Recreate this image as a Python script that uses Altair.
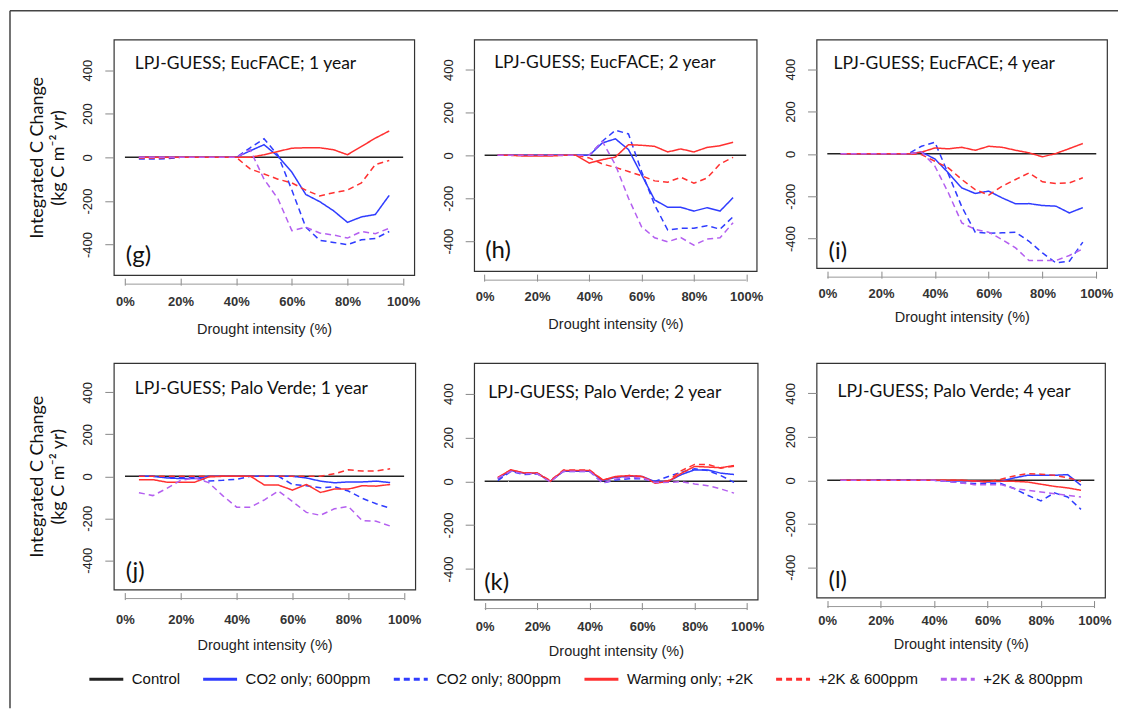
import altair as alt
import pandas as pd

# ---------------- data ----------------
xs = [5, 10, 15, 20, 25, 30, 35, 40, 45, 50, 55, 60, 65, 70, 75, 80, 85, 90, 95]
control_x = [0, 100]
control_y = [0, 0]

series_names = ["Control", "CO2 only; 600ppm", "CO2 only; 800ppm",
                "Warming only; +2K", "+2K & 600ppm", "+2K & 800ppm"]
series_colors = ["#222222", "#2f3cff", "#2f3cff", "#ff3030", "#ff3030", "#b45ff0"]
series_dashes = [[1, 0], [1, 0], [6, 4], [1, 0], [6, 4], [6, 4]]

x_ticks = [0, 20, 40, 60, 80, 100]
y_ticks = [-400, -200, 0, 200, 400]

panel_titles = ["LPJ-GUESS; EucFACE; 1 year", "LPJ-GUESS; EucFACE; 2 year",
                "LPJ-GUESS; EucFACE; 4 year", "LPJ-GUESS; Palo Verde; 1 year",
                "LPJ-GUESS; Palo Verde; 2 year", "LPJ-GUESS; Palo Verde; 4 year"]
panel_labels = ["(g)", "(h)", "(i)", "(j)", "(k)", "(l)"]
y_title = ["Integrated C Change", "(kg C m\u207b\u00b2 yr)"]
x_title = "Drought intensity (%)"

# panel g
g_co2_600 = [0, 0, 0, 0, 0, 0, 0, 0, 30, 58, 5, -68, -170, -203, -245, -298, -273, -262, -174]
g_co2_800 = [-8, -8, -6, 0, 0, 0, 0, 0, 44, 85, 10, -150, -320, -380, -390, -400, -378, -372, -340]
g_warm = [0, 0, 0, 0, 0, 0, 0, 0, 0, 12, 27, 42, 44, 44, 35, 12, 50, 88, 121]
g_warm_600 = [-3, -3, -2, 0, 0, 0, 0, 0, -53, -76, -100, -117, -150, -177, -162, -150, -117, -33, -14]
g_warm_800 = [0, 0, 0, 0, 0, 0, 0, 0, 35, -100, -190, -336, -320, -347, -356, -370, -340, -350, -325]
# panel h
h_co2_600 = [0, 0, 0, 0, 0, 0, 0, 0, 58, 77, 27, -90, -208, -242, -242, -260, -244, -260, -197]
h_co2_800 = [0, 0, 0, 0, 0, 0, 0, 0, 66, 117, 100, -75, -231, -348, -340, -340, -328, -344, -286]
h_warm = [0, 0, -3, -3, -3, 0, 0, -36, -20, -8, 50, 47, 42, 16, 30, 16, 37, 45, 61]
h_warm_600 = [0, 0, 3, 3, 3, 0, 0, -12, -40, -56, -75, -95, -119, -125, -102, -130, -106, -40, -9]
h_warm_800 = [0, 0, 0, 0, 0, 0, 0, 0, 66, -44, -200, -333, -384, -403, -383, -419, -390, -384, -314]
# panel i
i_co2_600 = [0, 0, 0, 0, 0, 0, 9, -24, -90, -161, -187, -176, -208, -236, -235, -244, -247, -279, -254]
i_co2_800 = [0, 0, 0, 0, 0, 0, 36, 55, -95, -250, -370, -375, -373, -370, -413, -468, -515, -507, -417]
i_warm = [0, 0, 0, 0, 0, 0, 8, 28, 24, 31, 17, 36, 31, 17, 5, -14, 2, 25, 49]
i_warm_600 = [0, 0, 0, 0, 0, 0, -3, -35, -66, -121, -169, -195, -153, -121, -90, -132, -140, -137, -113]
i_warm_800 = [0, 0, 0, 0, 0, 0, 9, -58, -184, -326, -357, -370, -405, -444, -504, -504, -504, -480, -449]
# panel j
j_co2_600 = [0, 0, -8, -11, -11, 0, 0, 0, 0, 0, 0, 0, -8, -23, -31, -27, -27, -23, -30]
j_co2_800 = [0, 0, -5, -5, -5, -22, -19, -14, 0, 0, 0, -39, -45, -55, -50, -70, -105, -131, -152]
j_warm = [-16, -16, -28, -28, -28, -3, 0, 0, 0, -42, -42, -66, -39, -77, -61, -61, -45, -47, -39]
j_warm_600 = [0, 0, 0, 0, 0, 0, 0, 0, 0, 0, 0, 0, 0, 0, 12, 31, 25, 25, 36]
j_warm_800 = [-78, -92, -58, -19, -8, -30, -92, -147, -147, -112, -70, -120, -172, -186, -155, -144, -211, -214, -237]
# panel k
k_co2_600 = [11, 49, 37, 37, 0, 46, 46, 46, 3, 18, 23, 22, -2, 0, 31, 52, 52, 37, 31]
k_co2_800 = [3, 45, 31, 34, 0, 45, 45, 45, -8, 6, 11, 11, 0, 22, 42, 57, 49, 26, -5]
k_warm = [18, 52, 38, 38, 0, 49, 49, 49, 6, 22, 26, 22, -9, 0, 37, 68, 65, 62, 72]
k_warm_600 = [15, 52, 38, 38, 3, 51, 51, 51, 6, 20, 26, 22, -6, 3, 49, 77, 77, 60, 69]
k_warm_800 = [14, 46, 34, 34, -3, 46, 46, 46, -9, 11, 18, 15, -6, -5, -2, -12, -20, -35, -54]
# panel l
l_co2_600 = [0, 0, 0, 3, 3, 3, 0, 0, -3, -3, -3, -8, -5, 11, 23, 23, 23, 26, -23]
l_co2_800 = [0, 0, 0, 0, 0, 0, 0, 0, -5, -11, -15, -15, -15, -38, -69, -95, -58, -77, -134]
l_warm = [0, 0, 0, 0, 0, 0, 0, 0, 0, 0, -3, -5, -5, -5, -8, -18, -28, -35, -46]
l_warm_600 = [0, 0, 0, 0, 0, 0, 0, 0, 0, 0, -3, -8, 5, 20, 31, 28, 23, 12, -5]
l_warm_800 = [0, 0, 0, 0, 0, 0, 0, 0, -5, -12, -20, -20, -20, -38, -46, -54, -62, -69, -77]

panel_series = [
    [g_co2_600, g_co2_800, g_warm, g_warm_600, g_warm_800],
    [h_co2_600, h_co2_800, h_warm, h_warm_600, h_warm_800],
    [i_co2_600, i_co2_800, i_warm, i_warm_600, i_warm_800],
    [j_co2_600, j_co2_800, j_warm, j_warm_600, j_warm_800],
    [k_co2_600, k_co2_800, k_warm, k_warm_600, k_warm_800],
    [l_co2_600, l_co2_800, l_warm, l_warm_600, l_warm_800],
]

# ---------------- layout / style ----------------
sizes = [(301, 236), (283, 232), (291, 229), (302, 227), (284, 237), (289, 235)]
title_dx = [21, 20, 17, 21, 14, 21]
title_dy = [24, 23, 24, 26, 30, 29]
label_dx = [12, 11, 12, 12, 10, 12]
label_up = [19, 20, 16, 18, 17, 17]
xlab_pad = [10, 9, 9, 14, 11, 7]
xtitle_pad = [14, 14, 10, 12, 11, 10]

TITLE_FONT = "Lato, Carlito, 'Open Sans', sans-serif"
TICK_FONT = "'Liberation Sans', Arial, sans-serif"
LEG_FONT = "'Liberation Sans', Arial, sans-serif"

legend = alt.Legend(
    title=None, orient="none", legendX=-26, legendY=622, direction="horizontal",
    symbolType="stroke", symbolSize=1156, symbolStrokeWidth=3,
    labelFont=LEG_FONT, labelFontSize=15, labelColor="#111", labelOffset=7,
    columnPadding=16,
)

xscale = alt.Scale(domain=[-4, 104], nice=False, zero=False)
yscale = alt.Scale(domain=[-540, 540], nice=False, zero=False)


def make_xaxis(idx):
    return alt.Axis(values=x_ticks, labelExpr="datum.value + '%'", offset=3, tickSize=7,
                    tickColor="#888", domain=False, grid=False, labelFont=TICK_FONT,
                    labelFontSize=13, labelFontWeight="bold", labelColor="#333",
                    labelPadding=xlab_pad[idx],
                    title=x_title, titleFont=TICK_FONT, titleFontSize=14.5,
                    titleFontWeight="normal", titleColor="#222",
                    titlePadding=xtitle_pad[idx])


def make_yaxis(with_title):
    kw = dict(values=y_ticks, labelExpr="'' + datum.value", labelAngle=270,
              labelAlign="center", labelBaseline="bottom", labelPadding=10, tickSize=9,
              tickColor="#888", domain=False, grid=False, labelFont=TICK_FONT,
              labelFontSize=13, labelColor="#222")
    if with_title:
        kw.update(title=y_title, titleFont=TITLE_FONT, titleFontSize=18,
                  titleFontWeight="normal", titleColor="#111", titlePadding=14,
                  titleLineHeight=21)
    else:
        kw.update(title=None)
    return alt.Axis(**kw)


charts = []
for idx in range(6):
    W, H = sizes[idx]
    rows = []
    for xv, yv in zip(control_x, control_y):
        rows.append({"x": xv, "y": yv, "series": series_names[0]})
    for s_name, vals in zip(series_names[1:], panel_series[idx]):
        for xv, yv in zip(xs, vals):
            rows.append({"x": xv, "y": yv, "series": s_name})
    df = pd.DataFrame(rows)

    lines = alt.Chart(df).mark_line(strokeWidth=1.5).encode(
        x=alt.X("x:Q", scale=xscale, axis=make_xaxis(idx)),
        y=alt.Y("y:Q", scale=yscale, axis=make_yaxis(idx % 3 == 0)),
        color=alt.Color("series:N", scale=alt.Scale(domain=series_names, range=series_colors),
                        legend=legend),
        strokeDash=alt.StrokeDash("series:N",
                                  scale=alt.Scale(domain=series_names, range=series_dashes),
                                  legend=legend),
    )

    axis_df = pd.DataFrame({"x": [x_ticks[0]], "x2": [x_ticks[-1]]})
    axis_line = alt.Chart(axis_df).mark_rule(color="#999", strokeWidth=1).encode(
        x=alt.X("x:Q", scale=xscale, axis=make_xaxis(idx)),
        x2="x2:Q",
        y=alt.value(H + 9),
    )

    ttl = alt.Chart(pd.DataFrame({"t": [panel_titles[idx]]})).mark_text(
        align="left", baseline="middle", font=TITLE_FONT, fontSize=17.5, color="#111"
    ).encode(text="t:N", x=alt.value(title_dx[idx]), y=alt.value(title_dy[idx]))

    lab = alt.Chart(pd.DataFrame({"t": [panel_labels[idx]]})).mark_text(
        align="left", baseline="middle", font=TITLE_FONT, fontSize=24, color="#111"
    ).encode(text="t:N", x=alt.value(label_dx[idx]), y=alt.value(H - label_up[idx]))

    layers = [lines, axis_line, ttl, lab]
    if idx == 0:
        one = pd.DataFrame({"v": [0]})
        left_border = alt.Chart(one).mark_rule(color="#444", strokeWidth=1.5).encode(
            x=alt.value(-104), y=alt.value(-29), y2=alt.value(670))
        top_border = alt.Chart(one).mark_rule(color="#444", strokeWidth=1.5).encode(
            x=alt.value(-104), x2=alt.value(1006), y=alt.value(-29))
        layers += [left_border, top_border]

    charts.append(alt.layer(*layers).properties(width=W, height=H))

chart = alt.concat(
    *charts, columns=3, spacing={"row": 88, "column": 59}, align="none", bounds="flush"
).resolve_scale(
    x="independent", y="independent", color="shared", strokeDash="shared"
).properties(
    padding=0, background="white"
).configure_view(
    stroke="#333", strokeWidth=1.2
).configure_axis(grid=False)

chart.save("out.html", embed_options={"renderer": "svg", "actions": False})
